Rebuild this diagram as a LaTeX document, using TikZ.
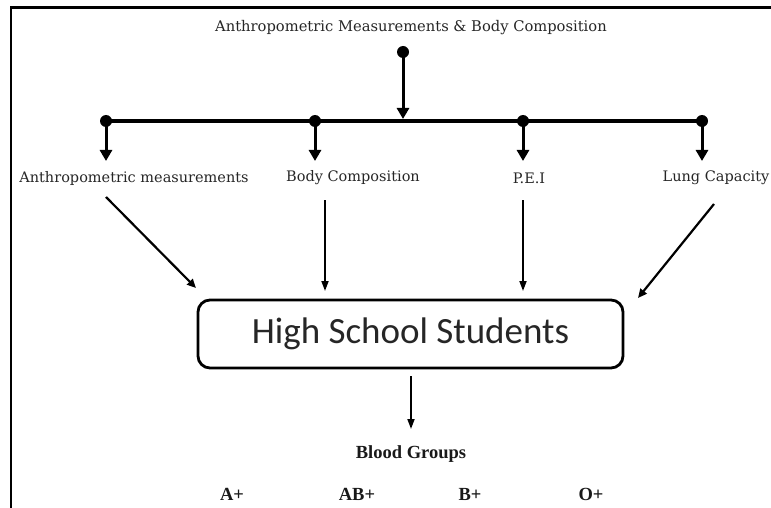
\documentclass[tikz,border=0pt]{standalone}
\usepackage{fontspec}
\setmainfont{DejaVu Serif}
\newfontfamily\boxfont{Carlito}
\newfontfamily\bgfont{Liberation Serif}
\usetikzlibrary{arrows.meta}
\tikzset{
  lbl/.style={inner sep=0pt, font=\fontsize{14.5}{15}\selectfont, text=black!85},
  bg/.style={inner sep=0pt, font=\bgfont\bfseries\fontsize{18.5}{19}\selectfont, text=black!90},
  bigarr/.style={line width=3pt, -{Triangle[length=11pt,width=12pt]}},
  thinarr/.style={line width=2.2pt, -{Triangle[length=9pt,width=8pt]}},
  vertarr/.style={line width=1.8pt, -{Triangle[length=10pt,width=7pt]}},
  busline/.style={line width=3.8pt},
  dot/.style={circle, fill=black, inner sep=0pt, minimum size=12pt},
  studbox/.style={draw, line width=2.8pt, rounded corners=12pt, minimum width=425pt, minimum height=68pt, font=\boxfont\fontsize{37}{39}\selectfont, text=black!85},
}
\begin{document}
\begin{tikzpicture}[x=1pt,y=-1pt]
\useasboundingbox (0,0) rectangle (771,508);
\draw[line width=2.6pt] (11,508) -- (11,7.5) -- (771,7.5);

\node[lbl, font=\fontsize{14.7}{15}\selectfont] (title) at (411,28) {Anthropometric Measurements \& Body Composition};
\node[dot] (top) at (403,52) {};
\node[dot] (d1) at (106,121) {};
\node[dot] (d2) at (315,121) {};
\node[dot] (d3) at (523,121) {};
\node[dot] (d4) at (702,121) {};
\coordinate (busin) at (403,119);
\draw[busline] (d1.center) -- (d4.center);
\draw[bigarr] (top.center) -- (busin);

\node[lbl] (l1) at (134,178) {Anthropometric measurements};
\node[lbl] (l2) at (353,178) {Body Composition};
\node[lbl] (l3) at (529,178) {P.E.I};
\node[lbl] (l4) at (716,178) {Lung Capacity};

\coordinate (t1) at (106,161);
\coordinate (t2) at (315,161);
\coordinate (t3) at (523,161);
\coordinate (t4) at (702,161);
\draw[bigarr] (d1.center) -- (t1);
\draw[bigarr] (d2.center) -- (t2);
\draw[bigarr] (d3.center) -- (t3);
\draw[bigarr] (d4.center) -- (t4);

\node[studbox] (box) at (410.5,334) {High School Students};

\coordinate (s1) at (106,197);
\coordinate (s2) at (325,200);
\coordinate (s3) at (523,200);
\coordinate (s4) at (714,204);
\coordinate (e1) at (196,288);
\coordinate (e2) at (325,291);
\coordinate (e3) at (523,291);
\coordinate (e4) at (638,298);
\draw[thinarr] (s1) -- (e1);
\draw[vertarr] (s2) -- (e2);
\draw[vertarr] (s3) -- (e3);
\draw[thinarr] (s4) -- (e4);

\node[bg] (blood) at (411,454) {Blood Groups};
\coordinate (bs) at (411,376);
\coordinate (be) at (411,429);
\draw[vertarr] (bs) -- (be);

\node[bg] (ap) at (232,494) {A+};
\node[bg] (abp) at (357,494) {AB+};
\node[bg] (bp) at (470,494) {B+};
\node[bg] (op) at (591,494) {O+};
\end{tikzpicture}
\end{document}
